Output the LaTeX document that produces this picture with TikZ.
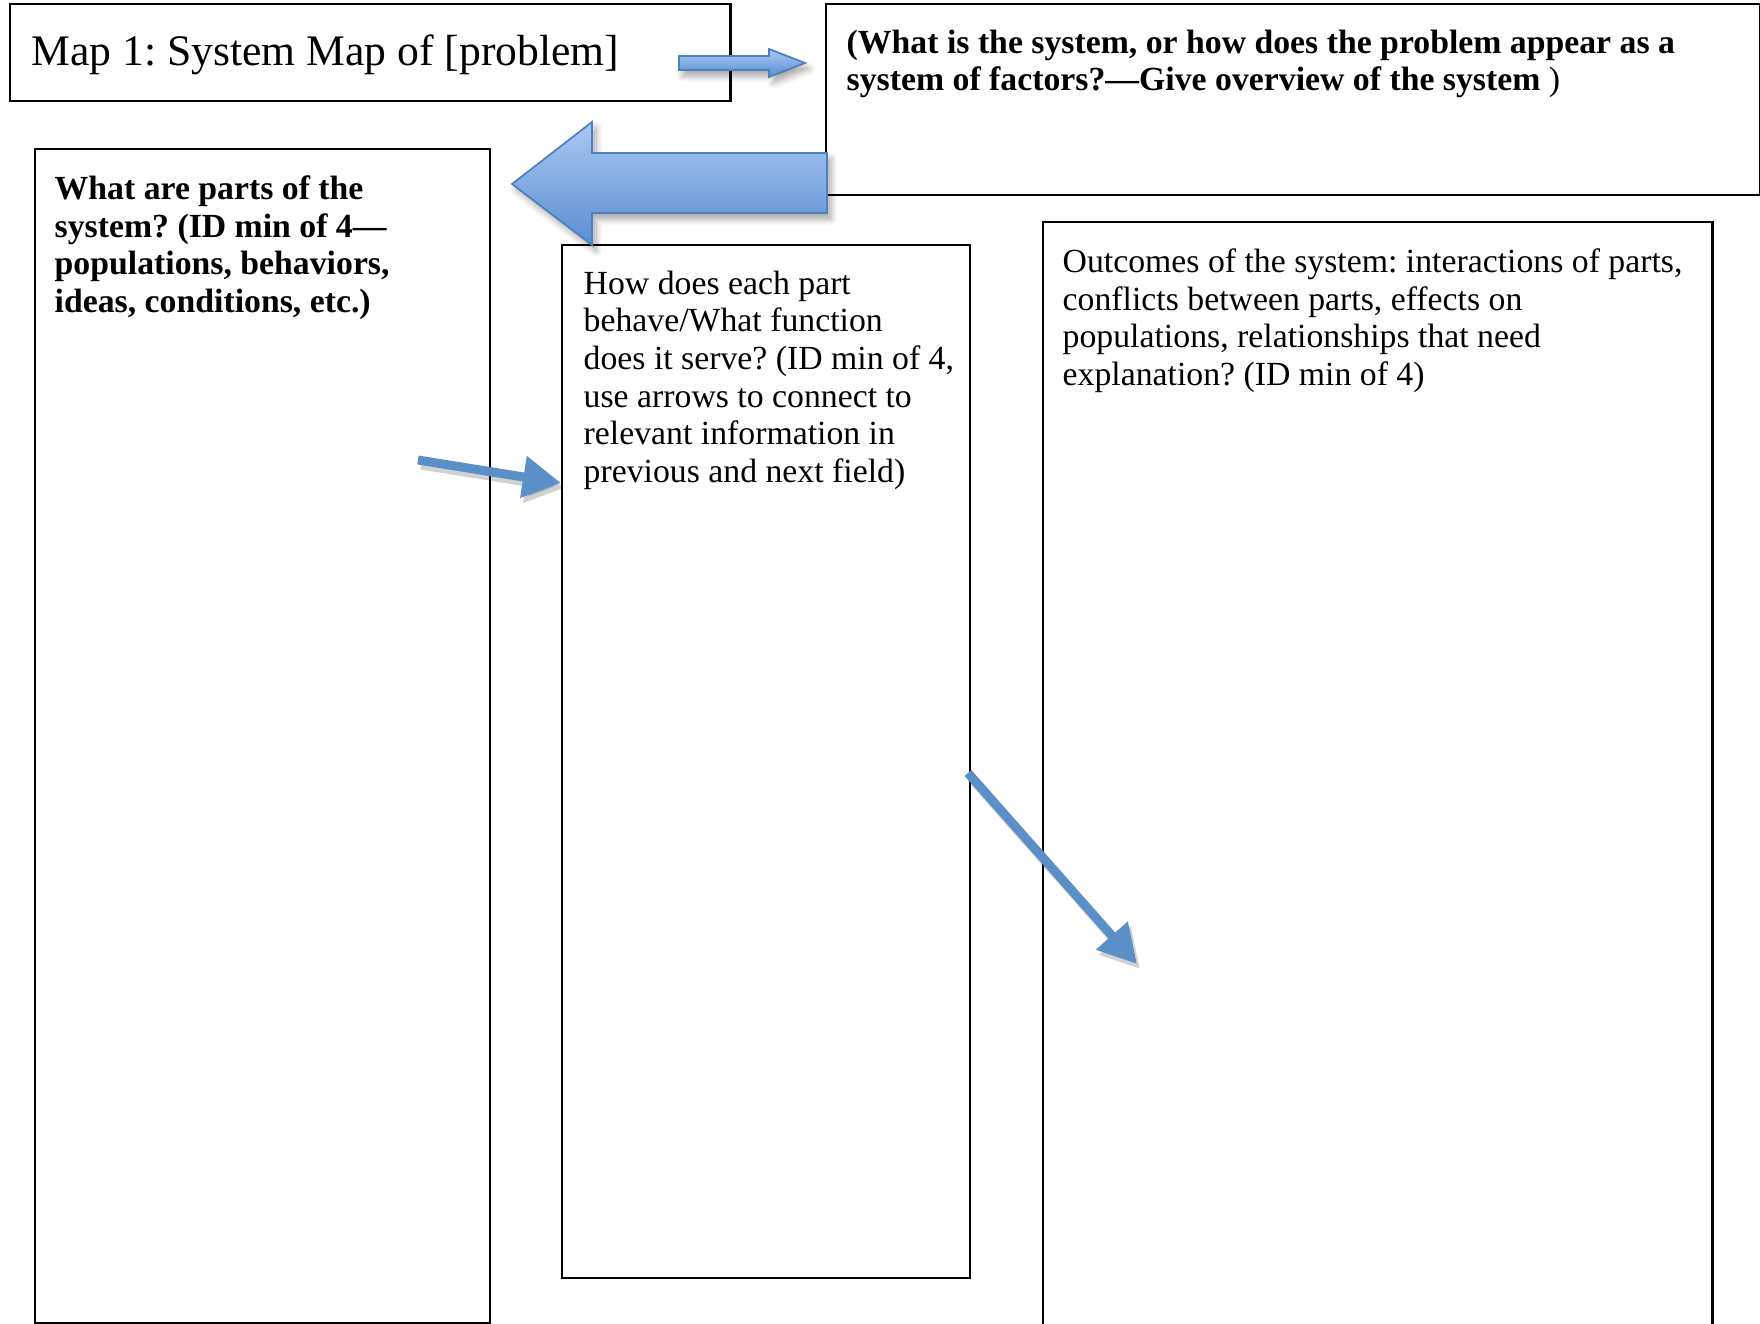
\documentclass[tikz,border=0pt]{standalone}
\usepackage{fontspec}
\setmainfont{Liberation Serif}
\usetikzlibrary{arrows.meta,shadows.blur}
\frenchspacing

\definecolor{arrowblue}{HTML}{5A8FC8}
\definecolor{arrowedge}{HTML}{4F81BD}
\definecolor{arrowlight}{HTML}{A9C9F3}
\definecolor{arrowdark}{HTML}{5A8DD2}

\tikzset{
  box/.style={draw=black, line width=0.6pt, inner sep=0pt, anchor=north west},
  boxtext/.style={inner sep=0pt, anchor=north west, align=left,
    font=\fontsize{9.6}{10.7}\selectfont},
  blockarrow/.style={draw=arrowedge, line width=0.5pt,
    top color=arrowlight, bottom color=arrowdark,
    blur shadow={shadow xshift=0.04cm, shadow yshift=-0.06cm,
      shadow blur steps=6, shadow opacity=35}},
  linearrow/.style={line width=0.09cm, draw=arrowblue,
    -{Triangle[length=0.38cm, width=0.40cm]}},
  lineshadow/.style={linearrow, draw=black, opacity=0.18,
    transform canvas={shift={(0.03cm,-0.05cm)}}},
}

\begin{document}
\begin{tikzpicture}[x=0.01cm, y=-0.01cm]
    \useasboundingbox (0,0) rectangle (1760,1323);

    % boxes
    \node[box, minimum width=7.2cm, minimum height=0.97cm] (title) at (9,3) {};
    \node[box, minimum width=9.33cm, minimum height=1.91cm] (overview) at (825,3) {};
    \node[box, minimum width=4.55cm, minimum height=11.73cm] (parts) at (34,148) {};
    \node[box, minimum width=4.08cm, minimum height=10.32cm] (behave) at (561,244) {};
    \node[box, minimum width=6.69cm, minimum height=11.4cm] (outcomes) at (1042,221) {};

    % texts
    \node[anchor=base west, inner sep=0pt, font=\fontsize{12.4}{14}\selectfont]
        (titleText) at (31,65) {Map 1: System Map of [problem]};
    \node[boxtext, font=\fontsize{9.6}{10.7}\selectfont\bfseries] (overviewText) at (846,29)
        {(What is the system, or how does the problem appear as a\\
         system of factors?—Give overview of the system\textmd{ )}};
    \node[boxtext, font=\fontsize{9.6}{10.7}\selectfont\bfseries] (partsText) at (54,175)
        {What are parts of the\\ system? (ID min of 4—\\
         populations, behaviors,\\ ideas, conditions, etc.)};
    \node[boxtext] (behaveText) at (583,270)
        {How does each part\\ behave/What function\\ does it serve? (ID min of 4,\\
         use arrows to connect to\\ relevant information in\\ previous and next field)};
    \node[boxtext] (outcomesText) at (1062,248)
        {Outcomes of the system: interactions of parts,\\ conflicts between parts, effects on\\
         populations, relationships that need\\ explanation? (ID min of 4)};

    % block arrows
    \path[blockarrow] (805,63) -- (769,49) -- (769,56) -- (679,56)
        -- (679,70) -- (769,70) -- (769,77) -- cycle;
    \path[blockarrow] (512,184) -- (592,122) -- (592,153) -- (827,153)
        -- (827,213) -- (592,213) -- (592,245) -- cycle;

    % line arrows
    \coordinate (partsOut) at (418,460);
    \coordinate (behaveIn) at (561,483);
    \coordinate (behaveOut) at (968,773);
    \coordinate (outcomesIn) at (1137,964);

    \draw[lineshadow] (partsOut) -- (behaveIn);
    \draw[linearrow] (partsOut) -- (behaveIn);
    \draw[lineshadow] (behaveOut) -- (outcomesIn);
    \draw[linearrow] (behaveOut) -- (outcomesIn);

\end{tikzpicture}
\end{document}
